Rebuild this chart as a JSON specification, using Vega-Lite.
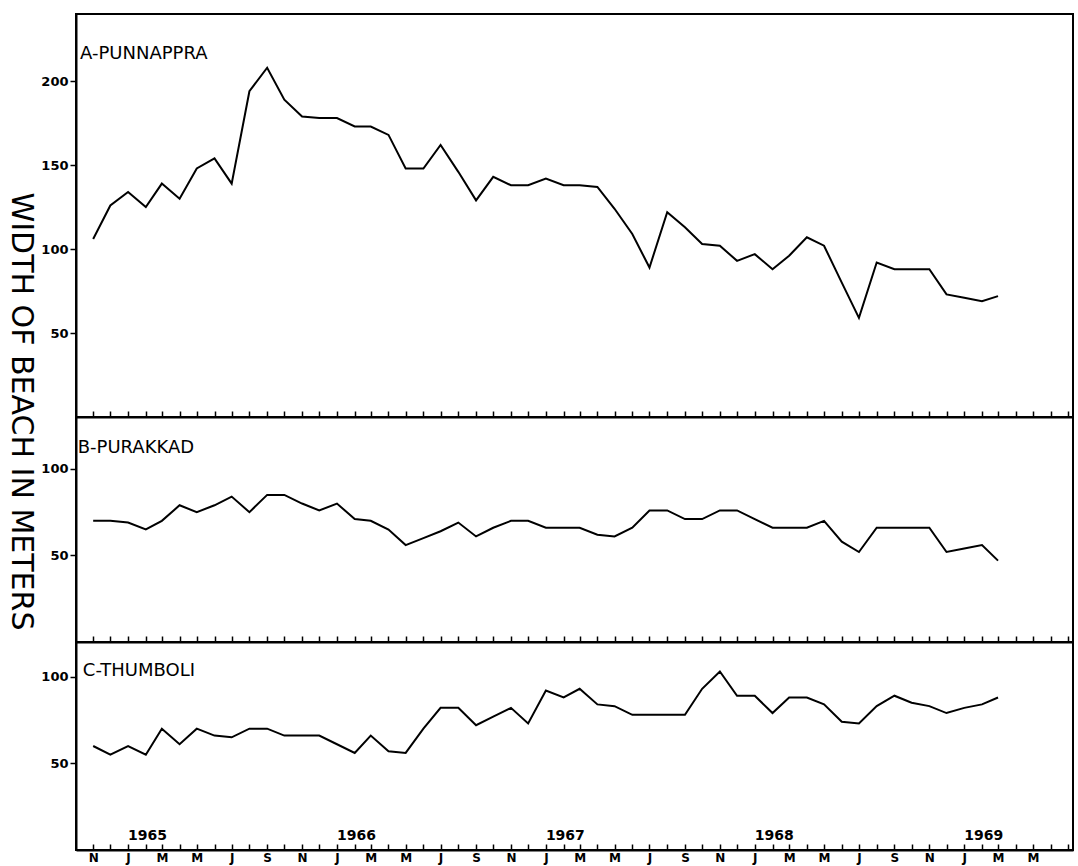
{
  "$schema": "https://vega.github.io/schema/vega-lite/v6.json",
  "background": "white",
  "padding": {"left": 4, "top": 13, "right": 4, "bottom": 12},
  "spacing": 0,
  "bounds": "flush",
  "resolve": {"scale": {"x": "independent", "y": "independent"}, "axis": {"x": "independent", "y": "independent"}},
  "config": {
    "view": {"stroke": "black", "strokeWidth": 2},
    "axis": {"domainColor": "black", "domainWidth": 2, "tickColor": "black", "tickWidth": 1.5, "labelColor": "black", "labelFont": "DejaVu Sans", "labelFontWeight": "bold", "labelFontSize": 13, "grid": false, "titleColor": "black"},
    "text": {"font": "DejaVu Sans", "color": "black"}
  },
  "datasets": {
    "beach": [
      {"site":"A","month":"1964-11","width":106},{"site":"A","month":"1964-12","width":126},{"site":"A","month":"1965-01","width":134},{"site":"A","month":"1965-02","width":125},{"site":"A","month":"1965-03","width":139},{"site":"A","month":"1965-04","width":130},{"site":"A","month":"1965-05","width":148},{"site":"A","month":"1965-06","width":154},{"site":"A","month":"1965-07","width":139},{"site":"A","month":"1965-08","width":194},{"site":"A","month":"1965-09","width":208},{"site":"A","month":"1965-10","width":189},{"site":"A","month":"1965-11","width":179},{"site":"A","month":"1965-12","width":178},{"site":"A","month":"1966-01","width":178},{"site":"A","month":"1966-02","width":173},{"site":"A","month":"1966-03","width":173},{"site":"A","month":"1966-04","width":168},{"site":"A","month":"1966-05","width":148},{"site":"A","month":"1966-06","width":148},{"site":"A","month":"1966-07","width":162},{"site":"A","month":"1966-08","width":146},{"site":"A","month":"1966-09","width":129},{"site":"A","month":"1966-10","width":143},{"site":"A","month":"1966-11","width":138},{"site":"A","month":"1966-12","width":138},{"site":"A","month":"1967-01","width":142},{"site":"A","month":"1967-02","width":138},{"site":"A","month":"1967-03","width":138},{"site":"A","month":"1967-04","width":137},{"site":"A","month":"1967-05","width":124},{"site":"A","month":"1967-06","width":109},{"site":"A","month":"1967-07","width":89},{"site":"A","month":"1967-08","width":122},{"site":"A","month":"1967-09","width":113},{"site":"A","month":"1967-10","width":103},{"site":"A","month":"1967-11","width":102},{"site":"A","month":"1967-12","width":93},{"site":"A","month":"1968-01","width":97},{"site":"A","month":"1968-02","width":88},{"site":"A","month":"1968-03","width":96},{"site":"A","month":"1968-04","width":107},{"site":"A","month":"1968-05","width":102},{"site":"A","month":"1968-06","width":80},{"site":"A","month":"1968-07","width":59},{"site":"A","month":"1968-08","width":92},{"site":"A","month":"1968-09","width":88},{"site":"A","month":"1968-10","width":88},{"site":"A","month":"1968-11","width":88},{"site":"A","month":"1968-12","width":73},{"site":"A","month":"1969-01","width":71},{"site":"A","month":"1969-02","width":69},{"site":"A","month":"1969-03","width":72},
      {"site":"B","month":"1964-11","width":70},{"site":"B","month":"1964-12","width":70},{"site":"B","month":"1965-01","width":69},{"site":"B","month":"1965-02","width":65},{"site":"B","month":"1965-03","width":70},{"site":"B","month":"1965-04","width":79},{"site":"B","month":"1965-05","width":75},{"site":"B","month":"1965-06","width":79},{"site":"B","month":"1965-07","width":84},{"site":"B","month":"1965-08","width":75},{"site":"B","month":"1965-09","width":85},{"site":"B","month":"1965-10","width":85},{"site":"B","month":"1965-11","width":80},{"site":"B","month":"1965-12","width":76},{"site":"B","month":"1966-01","width":80},{"site":"B","month":"1966-02","width":71},{"site":"B","month":"1966-03","width":70},{"site":"B","month":"1966-04","width":65},{"site":"B","month":"1966-05","width":56},{"site":"B","month":"1966-06","width":60},{"site":"B","month":"1966-07","width":64},{"site":"B","month":"1966-08","width":69},{"site":"B","month":"1966-09","width":61},{"site":"B","month":"1966-10","width":66},{"site":"B","month":"1966-11","width":70},{"site":"B","month":"1966-12","width":70},{"site":"B","month":"1967-01","width":66},{"site":"B","month":"1967-02","width":66},{"site":"B","month":"1967-03","width":66},{"site":"B","month":"1967-04","width":62},{"site":"B","month":"1967-05","width":61},{"site":"B","month":"1967-06","width":66},{"site":"B","month":"1967-07","width":76},{"site":"B","month":"1967-08","width":76},{"site":"B","month":"1967-09","width":71},{"site":"B","month":"1967-10","width":71},{"site":"B","month":"1967-11","width":76},{"site":"B","month":"1967-12","width":76},{"site":"B","month":"1968-01","width":71},{"site":"B","month":"1968-02","width":66},{"site":"B","month":"1968-03","width":66},{"site":"B","month":"1968-04","width":66},{"site":"B","month":"1968-05","width":70},{"site":"B","month":"1968-06","width":58},{"site":"B","month":"1968-07","width":52},{"site":"B","month":"1968-08","width":66},{"site":"B","month":"1968-09","width":66},{"site":"B","month":"1968-10","width":66},{"site":"B","month":"1968-11","width":66},{"site":"B","month":"1968-12","width":52},{"site":"B","month":"1969-01","width":54},{"site":"B","month":"1969-02","width":56},{"site":"B","month":"1969-03","width":47},
      {"site":"C","month":"1964-11","width":60},{"site":"C","month":"1964-12","width":55},{"site":"C","month":"1965-01","width":60},{"site":"C","month":"1965-02","width":55},{"site":"C","month":"1965-03","width":70},{"site":"C","month":"1965-04","width":61},{"site":"C","month":"1965-05","width":70},{"site":"C","month":"1965-06","width":66},{"site":"C","month":"1965-07","width":65},{"site":"C","month":"1965-08","width":70},{"site":"C","month":"1965-09","width":70},{"site":"C","month":"1965-10","width":66},{"site":"C","month":"1965-11","width":66},{"site":"C","month":"1965-12","width":66},{"site":"C","month":"1966-01","width":61},{"site":"C","month":"1966-02","width":56},{"site":"C","month":"1966-03","width":66},{"site":"C","month":"1966-04","width":57},{"site":"C","month":"1966-05","width":56},{"site":"C","month":"1966-06","width":70},{"site":"C","month":"1966-07","width":82},{"site":"C","month":"1966-08","width":82},{"site":"C","month":"1966-09","width":72},{"site":"C","month":"1966-10","width":77},{"site":"C","month":"1966-11","width":82},{"site":"C","month":"1966-12","width":73},{"site":"C","month":"1967-01","width":92},{"site":"C","month":"1967-02","width":88},{"site":"C","month":"1967-03","width":93},{"site":"C","month":"1967-04","width":84},{"site":"C","month":"1967-05","width":83},{"site":"C","month":"1967-06","width":78},{"site":"C","month":"1967-07","width":78},{"site":"C","month":"1967-08","width":78},{"site":"C","month":"1967-09","width":78},{"site":"C","month":"1967-10","width":93},{"site":"C","month":"1967-11","width":103},{"site":"C","month":"1967-12","width":89},{"site":"C","month":"1968-01","width":89},{"site":"C","month":"1968-02","width":79},{"site":"C","month":"1968-03","width":88},{"site":"C","month":"1968-04","width":88},{"site":"C","month":"1968-05","width":84},{"site":"C","month":"1968-06","width":74},{"site":"C","month":"1968-07","width":73},{"site":"C","month":"1968-08","width":83},{"site":"C","month":"1968-09","width":89},{"site":"C","month":"1968-10","width":85},{"site":"C","month":"1968-11","width":83},{"site":"C","month":"1968-12","width":79},{"site":"C","month":"1969-01","width":82},{"site":"C","month":"1969-02","width":84},{"site":"C","month":"1969-03","width":88}
    ],
    "years": [
      {"month":"1965-01","label":"1965"},{"month":"1966-01","label":"1966"},{"month":"1967-01","label":"1967"},{"month":"1968-01","label":"1968"},{"month":"1969-01","label":"1969"}
    ]
  },
  "vconcat": [
    {
      "width": 997, "height": 403,
      "layer": [
        {
          "data": {"name": "beach"},
          "transform": [{"filter": "datum.site === 'A'"}],
          "mark": {"type": "line", "color": "black", "strokeWidth": 2},
          "encoding": {
            "x": {"field": "month", "type": "temporal", "scale": {"type": "utc", "domain": [{"year":1964,"month":10,"date":2,"utc":true},{"year":1969,"month":7,"date":10,"utc":true}]},
                  "axis": {"title": null, "labels": false, "tickCount": {"interval": "month", "step": 1}, "tickSize": -6}},
            "y": {"field": "width", "type": "quantitative", "scale": {"domain": [0, 230]},
                  "axis": {"values": [50, 100, 150, 200], "tickSize": 6, "labelPadding": 2, "title": "WIDTH OF BEACH IN METERS", "titleAngle": 90, "titleX": -56, "titleY": 397, "titleAlign": "center", "titleBaseline": "middle", "titleFont": "DejaVu Sans", "titleFontSize": 30, "titleFontWeight": "normal"}}
          }
        },
        {
          "data": {"values": [{}]},
          "mark": {"type": "text", "align": "left", "baseline": "middle", "fontSize": 18},
          "encoding": {
            "x": {"datum": {"year":1964,"month":10,"date":9,"utc":true}, "type": "temporal"},
            "y": {"datum": 216, "type": "quantitative"},
            "text": {"value": "A-PUNNAPPRA"}
          }
        }
      ]
    },
    {
      "width": 997, "height": 225,
      "layer": [
        {
          "data": {"name": "beach"},
          "transform": [{"filter": "datum.site === 'B'"}],
          "mark": {"type": "line", "color": "black", "strokeWidth": 2},
          "encoding": {
            "x": {"field": "month", "type": "temporal", "scale": {"type": "utc", "domain": [{"year":1964,"month":10,"date":2,"utc":true},{"year":1969,"month":7,"date":10,"utc":true}]},
                  "axis": {"title": null, "labels": false, "tickCount": {"interval": "month", "step": 1}, "tickSize": -6}},
            "y": {"field": "width", "type": "quantitative", "scale": {"domain": [0, 128]},
                  "axis": {"values": [50, 100], "tickSize": 6, "labelPadding": 2, "title": null}}
          }
        },
        {
          "data": {"values": [{}]},
          "mark": {"type": "text", "align": "left", "baseline": "middle", "fontSize": 18},
          "encoding": {
            "x": {"datum": {"year":1964,"month":10,"date":5,"utc":true}, "type": "temporal"},
            "y": {"datum": 112, "type": "quantitative"},
            "text": {"value": "B-PURAKKAD"}
          }
        }
      ]
    },
    {
      "width": 997, "height": 208,
      "layer": [
        {
          "data": {"name": "beach"},
          "transform": [{"filter": "datum.site === 'C'"}],
          "mark": {"type": "line", "color": "black", "strokeWidth": 2},
          "encoding": {
            "x": {"field": "month", "type": "temporal", "scale": {"type": "utc", "domain": [{"year":1964,"month":10,"date":2,"utc":true},{"year":1969,"month":7,"date":10,"utc":true}]},
                  "axis": {"title": null, "tickCount": {"interval": "month", "step": 1}, "tickSize": -6, "labelPadding": 8, "labelFontSize": 12, "labelOverlap": false, "labelFlush": false, "labelBound": false,
                           "labelExpr": "(utcmonth(datum.value) % 2 == 0 && !(utcyear(datum.value) == 1969 && utcmonth(datum.value) > 4)) ? substring(utcFormat(datum.value, '%b'), 0, 1) : ''"}},
            "y": {"field": "width", "type": "quantitative", "scale": {"domain": [0, 120]},
                  "axis": {"values": [50, 100], "tickSize": 6, "labelPadding": 2, "title": null}}
          }
        },
        {
          "data": {"values": [{}]},
          "mark": {"type": "text", "align": "left", "baseline": "middle", "fontSize": 18},
          "encoding": {
            "x": {"datum": {"year":1964,"month":10,"date":14,"utc":true}, "type": "temporal"},
            "y": {"datum": 103, "type": "quantitative"},
            "text": {"value": "C-THUMBOLI"}
          }
        },
        {
          "data": {"name": "years"},
          "mark": {"type": "text", "align": "left", "baseline": "alphabetic", "fontSize": 14, "fontWeight": "bold"},
          "encoding": {
            "x": {"field": "month", "type": "temporal"},
            "y": {"datum": 6, "type": "quantitative"},
            "text": {"field": "label"}
          }
        }
      ]
    }
  ]
}
